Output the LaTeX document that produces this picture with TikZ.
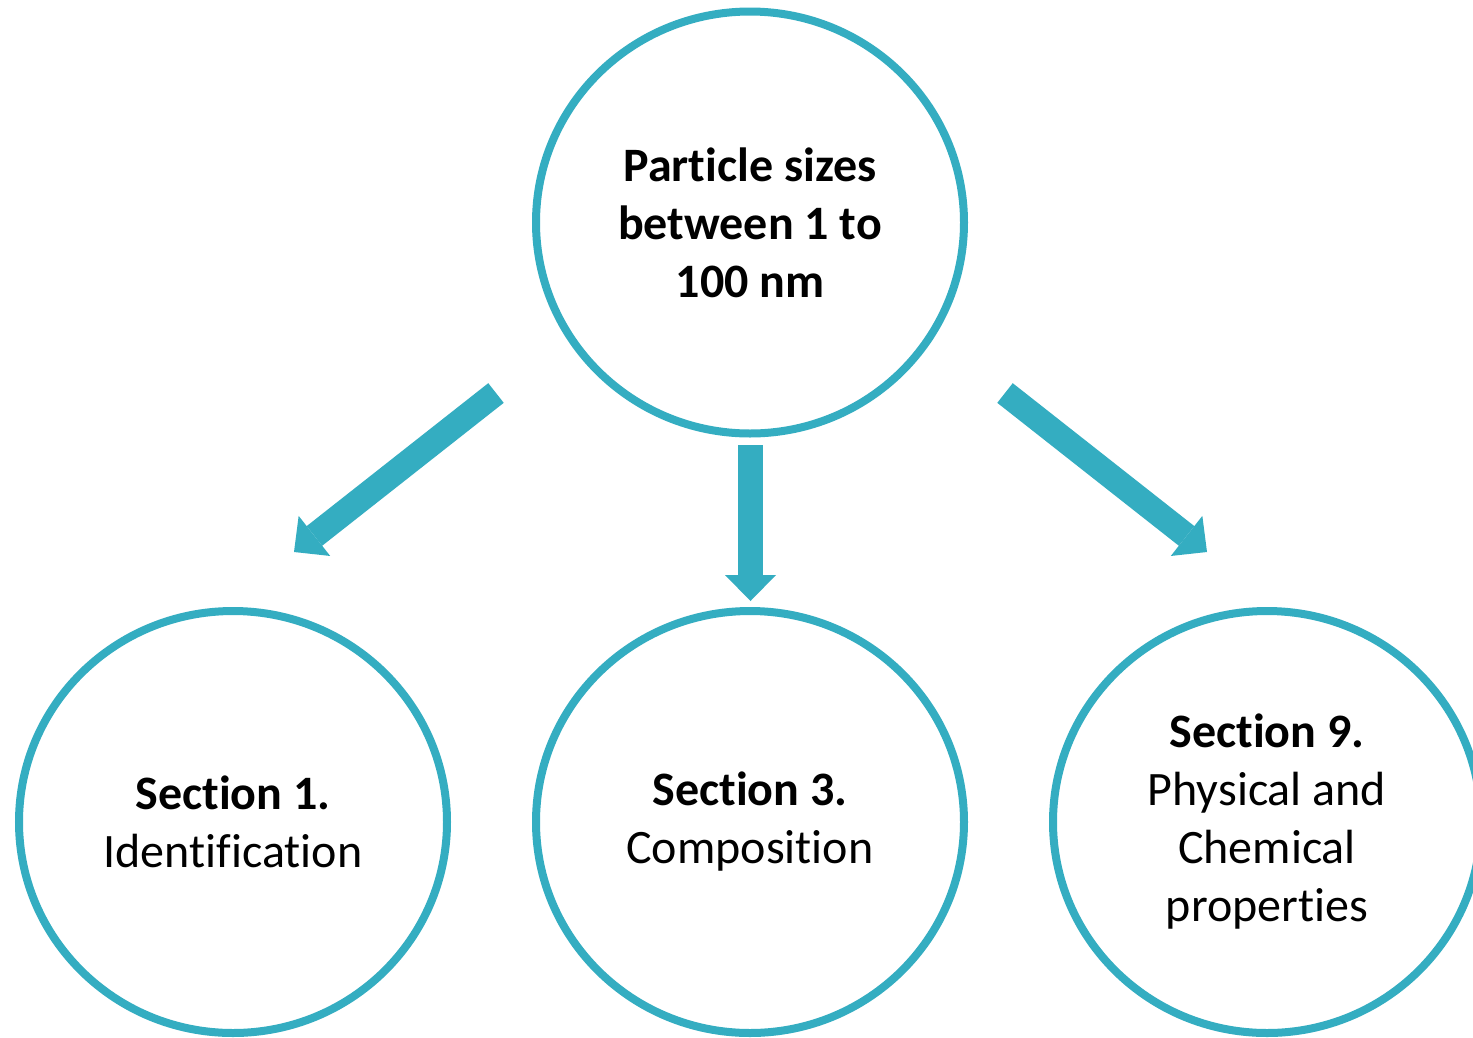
\documentclass[tikz,border=0pt]{standalone}
\usepackage{fontspec}
\setmainfont{Carlito}[Ligatures=NoCommon]
\usetikzlibrary{arrows.meta,shapes.geometric}
\definecolor{tealc}{RGB}{52,173,193}
\begin{document}
\begin{tikzpicture}[x=1pt,y=-1pt,
  circ/.style={ellipse, draw=tealc, line width=8pt, minimum width=428pt, minimum height=422pt,
    inner sep=0pt, align=center, font=\fontsize{48}{58}\selectfont},
  bigarrow/.style={draw=tealc, line width=25pt,
    -{Triangle[width=51pt,length=26pt,line width=0pt]}}]
\useasboundingbox (0,0) rectangle (1473,1037);
\fill[white] (0,0) rectangle (1473,1037);
\node[circ] (top) at (750,222.5) {\textbf{Particle sizes}\\\textbf{between 1 to}\\\textbf{100 nm}};
\node[circ] (s1) at (233,822) {\textbf{Section 1.}\\Identification};
\node[circ] (s3) at (750,822) {\textbf{Section 3.}\\Composition};
\node[circ] (s9) at (1267,822) {\textbf{Section 9.}\\Physical and\\Chemical\\properties};
\coordinate (la) at (496,393);
\coordinate (lb) at (294,552);
\coordinate (ma) at (750.5,445);
\coordinate (mb) at (750.5,601);
\coordinate (ra) at (1005,393);
\coordinate (rb) at (1207,552);
\draw[bigarrow] (la) -- (lb);
\draw[bigarrow] (ma) -- (mb);
\draw[bigarrow] (ra) -- (rb);
\end{tikzpicture}
\end{document}
